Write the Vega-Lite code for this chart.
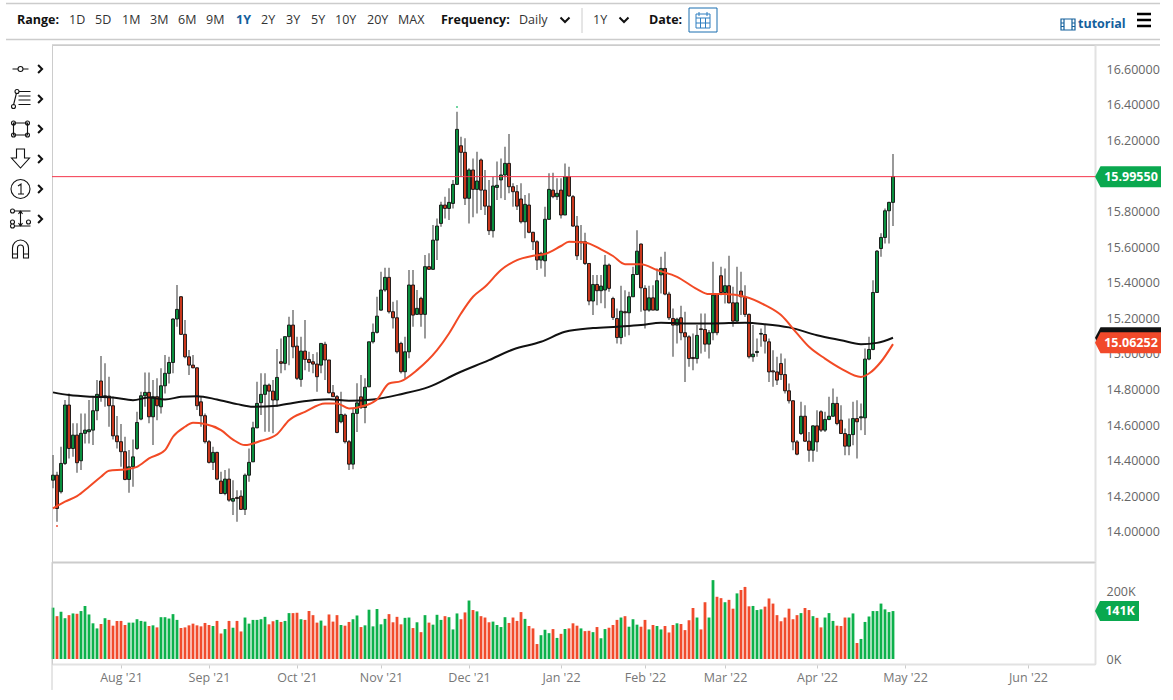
{
"$schema":"https://vega.github.io/schema/vega-lite/v6.json",
"background":"white",
"padding":0,
"spacing":0,
"bounds":"flush",
"config":{"font":"Open Sans","view":{"stroke":null}},
"resolve":{"scale":{"shape":"independent","color":"independent","strokeWidth":"independent"}},
"datasets":{
"controls":[
{"slot":1,"band":2,"label":"Range:","style":"heading"},
{"slot":3,"band":2,"label":"1D","style":"plain"},
{"slot":4,"band":2,"label":"5D","style":"plain"},
{"slot":5,"band":2,"label":"1M","style":"plain"},
{"slot":6,"band":2,"label":"3M","style":"plain"},
{"slot":7,"band":2,"label":"6M","style":"plain"},
{"slot":8,"band":2,"label":"9M","style":"plain"},
{"slot":9,"band":2,"label":"1Y","style":"active"},
{"slot":10,"band":2,"label":"2Y","style":"plain"},
{"slot":11,"band":2,"label":"3Y","style":"plain"},
{"slot":12,"band":2,"label":"5Y","style":"plain"},
{"slot":13,"band":2,"label":"10Y","style":"plain"},
{"slot":14,"band":2,"label":"20Y","style":"plain"},
{"slot":15,"band":2,"label":"MAX","style":"plain"},
{"slot":16,"band":2,"label":"Frequency:","style":"heading"},
{"slot":17,"band":2,"label":"Daily","style":"plain"},
{"slot":20,"band":2,"label":"1Y","style":"plain"},
{"slot":22,"band":2,"label":"Date:","style":"heading"},
{"slot":25,"band":3,"label":"tutorial","style":"active"}
],
"candles":[
{"day":0,"open":14.291,"high":14.432,"low":14.245,"close":14.319,"volume":151},
{"day":1,"open":14.319,"high":14.338,"low":14.057,"close":14.132,"volume":126},
{"day":2,"open":14.226,"high":14.479,"low":14.216,"close":14.385,"volume":139},
{"day":3,"open":14.385,"high":14.741,"low":14.376,"close":14.713,"volume":120},
{"day":4,"open":14.713,"high":14.778,"low":14.413,"close":14.469,"volume":129},
{"day":5,"open":14.469,"high":14.61,"low":14.422,"close":14.544,"volume":134},
{"day":6,"open":14.544,"high":14.61,"low":14.333,"close":14.389,"volume":133},
{"day":7,"open":14.4,"high":14.666,"low":14.348,"close":14.554,"volume":141},
{"day":8,"open":14.554,"high":14.666,"low":14.497,"close":14.572,"volume":156},
{"day":9,"open":14.563,"high":14.741,"low":14.497,"close":14.574,"volume":131},
{"day":10,"open":14.572,"high":14.76,"low":14.488,"close":14.681,"volume":105},
{"day":11,"open":14.681,"high":14.853,"low":14.628,"close":14.773,"volume":90},
{"day":12,"open":14.848,"high":14.988,"low":14.731,"close":14.76,"volume":103},
{"day":13,"open":14.76,"high":14.947,"low":14.703,"close":14.765,"volume":120},
{"day":14,"open":14.763,"high":14.872,"low":14.591,"close":14.709,"volume":115},
{"day":15,"open":14.709,"high":14.76,"low":14.52,"close":14.54,"volume":98},
{"day":16,"open":14.54,"high":14.651,"low":14.469,"close":14.507,"volume":112},
{"day":17,"open":14.507,"high":14.606,"low":14.366,"close":14.451,"volume":112},
{"day":18,"open":14.451,"high":14.535,"low":14.291,"close":14.295,"volume":100},
{"day":19,"open":14.295,"high":14.46,"low":14.22,"close":14.366,"volume":107},
{"day":20,"open":14.366,"high":14.52,"low":14.254,"close":14.422,"volume":107},
{"day":21,"open":14.469,"high":14.675,"low":14.46,"close":14.615,"volume":117},
{"day":22,"open":14.634,"high":14.788,"low":14.628,"close":14.765,"volume":112},
{"day":23,"open":14.765,"high":14.896,"low":14.703,"close":14.784,"volume":110},
{"day":24,"open":14.784,"high":14.896,"low":14.61,"close":14.647,"volume":97},
{"day":25,"open":14.647,"high":14.853,"low":14.488,"close":14.76,"volume":99},
{"day":26,"open":14.76,"high":14.863,"low":14.628,"close":14.709,"volume":93},
{"day":27,"open":14.703,"high":14.919,"low":14.666,"close":14.821,"volume":123},
{"day":28,"open":14.821,"high":14.994,"low":14.778,"close":14.891,"volume":123},
{"day":29,"open":14.891,"high":14.984,"low":14.834,"close":14.952,"volume":119},
{"day":30,"open":14.952,"high":15.2,"low":14.891,"close":15.196,"volume":132},
{"day":31,"open":15.196,"high":15.387,"low":15.153,"close":15.25,"volume":115},
{"day":32,"open":15.321,"high":15.325,"low":15.106,"close":15.11,"volume":91},
{"day":33,"open":15.11,"high":15.19,"low":14.975,"close":14.984,"volume":93},
{"day":34,"open":14.984,"high":15.022,"low":14.881,"close":14.937,"volume":99},
{"day":35,"open":14.937,"high":14.994,"low":14.919,"close":14.922,"volume":104},
{"day":36,"open":14.922,"high":14.924,"low":14.685,"close":14.709,"volume":99},
{"day":37,"open":14.731,"high":14.76,"low":14.591,"close":14.653,"volume":96},
{"day":38,"open":14.653,"high":14.666,"low":14.497,"close":14.507,"volume":106},
{"day":39,"open":14.507,"high":14.516,"low":14.385,"close":14.391,"volume":100},
{"day":40,"open":14.391,"high":14.479,"low":14.348,"close":14.447,"volume":97},
{"day":41,"open":14.447,"high":14.451,"low":14.291,"close":14.297,"volume":112},
{"day":42,"open":14.286,"high":14.338,"low":14.216,"close":14.216,"volume":75},
{"day":43,"open":14.216,"high":14.348,"low":14.207,"close":14.297,"volume":88},
{"day":44,"open":14.297,"high":14.357,"low":14.17,"close":14.179,"volume":112},
{"day":45,"open":14.173,"high":14.291,"low":14.095,"close":14.188,"volume":92},
{"day":46,"open":14.194,"high":14.235,"low":14.057,"close":14.188,"volume":112},
{"day":47,"open":14.201,"high":14.235,"low":14.123,"close":14.127,"volume":81},
{"day":48,"open":14.127,"high":14.329,"low":14.095,"close":14.319,"volume":122},
{"day":49,"open":14.319,"high":14.469,"low":14.282,"close":14.391,"volume":104},
{"day":50,"open":14.394,"high":14.619,"low":14.394,"close":14.585,"volume":115},
{"day":51,"open":14.585,"high":14.844,"low":14.582,"close":14.722,"volume":115},
{"day":52,"open":14.726,"high":14.891,"low":14.657,"close":14.773,"volume":117},
{"day":53,"open":14.773,"high":14.891,"low":14.563,"close":14.825,"volume":124},
{"day":54,"open":14.825,"high":14.834,"low":14.563,"close":14.791,"volume":102},
{"day":55,"open":14.791,"high":14.853,"low":14.554,"close":14.741,"volume":111},
{"day":56,"open":14.741,"high":15.027,"low":14.703,"close":14.868,"volume":115},
{"day":57,"open":14.956,"high":15.087,"low":14.891,"close":14.947,"volume":109},
{"day":58,"open":14.947,"high":15.097,"low":14.909,"close":15.097,"volume":112},
{"day":59,"open":15.097,"high":15.209,"low":14.937,"close":15.162,"volume":135},
{"day":60,"open":15.162,"high":15.246,"low":14.975,"close":15.04,"volume":135},
{"day":61,"open":15.044,"high":15.097,"low":14.853,"close":14.863,"volume":136},
{"day":62,"open":14.857,"high":15.097,"low":14.816,"close":15.016,"volume":117},
{"day":63,"open":15.016,"high":15.19,"low":14.909,"close":14.969,"volume":115},
{"day":64,"open":14.969,"high":15.012,"low":14.9,"close":14.952,"volume":141},
{"day":65,"open":14.956,"high":14.999,"low":14.891,"close":14.943,"volume":129},
{"day":66,"open":14.943,"high":15.009,"low":14.788,"close":14.872,"volume":107},
{"day":67,"open":14.937,"high":15.059,"low":14.891,"close":15.059,"volume":113},
{"day":68,"open":15.054,"high":15.069,"low":14.853,"close":14.966,"volume":98},
{"day":69,"open":14.966,"high":14.966,"low":14.778,"close":14.782,"volume":131},
{"day":70,"open":14.782,"high":14.825,"low":14.76,"close":14.76,"volume":110},
{"day":71,"open":14.76,"high":14.769,"low":14.554,"close":14.559,"volume":129},
{"day":72,"open":14.619,"high":14.788,"low":14.61,"close":14.66,"volume":100},
{"day":73,"open":14.657,"high":14.666,"low":14.497,"close":14.507,"volume":98},
{"day":74,"open":14.507,"high":14.516,"low":14.348,"close":14.381,"volume":109},
{"day":75,"open":14.381,"high":14.69,"low":14.353,"close":14.666,"volume":117},
{"day":76,"open":14.666,"high":14.836,"low":14.561,"close":14.725,"volume":128},
{"day":77,"open":14.759,"high":14.881,"low":14.69,"close":14.699,"volume":94},
{"day":78,"open":14.699,"high":14.864,"low":14.611,"close":14.813,"volume":99},
{"day":79,"open":14.815,"high":15.068,"low":14.815,"close":15.068,"volume":145},
{"day":80,"open":15.068,"high":15.171,"low":15.059,"close":15.121,"volume":96},
{"day":81,"open":15.121,"high":15.321,"low":15.115,"close":15.212,"volume":147},
{"day":82,"open":15.246,"high":15.462,"low":15.242,"close":15.359,"volume":102},
{"day":83,"open":15.359,"high":15.484,"low":15.349,"close":15.43,"volume":118},
{"day":84,"open":15.43,"high":15.484,"low":15.227,"close":15.237,"volume":132},
{"day":85,"open":15.237,"high":15.293,"low":15.143,"close":15.203,"volume":108},
{"day":86,"open":15.203,"high":15.302,"low":15.003,"close":15.012,"volume":124},
{"day":87,"open":15.059,"high":15.068,"low":14.89,"close":14.9,"volume":102},
{"day":88,"open":14.9,"high":15.096,"low":14.862,"close":15.012,"volume":121},
{"day":89,"open":15.012,"high":15.471,"low":14.975,"close":15.387,"volume":122},
{"day":90,"open":15.387,"high":15.471,"low":15.153,"close":15.218,"volume":91},
{"day":91,"open":15.222,"high":15.359,"low":15.218,"close":15.256,"volume":108},
{"day":92,"open":15.312,"high":15.321,"low":15.153,"close":15.222,"volume":79},
{"day":93,"open":15.222,"high":15.555,"low":15.087,"close":15.49,"volume":129},
{"day":94,"open":15.49,"high":15.565,"low":15.471,"close":15.475,"volume":107},
{"day":95,"open":15.475,"high":15.724,"low":15.471,"close":15.639,"volume":101},
{"day":96,"open":15.639,"high":15.761,"low":15.527,"close":15.718,"volume":130},
{"day":97,"open":15.733,"high":15.855,"low":15.714,"close":15.836,"volume":115},
{"day":98,"open":15.836,"high":15.883,"low":15.761,"close":15.817,"volume":126},
{"day":99,"open":15.817,"high":15.93,"low":15.752,"close":15.851,"volume":123},
{"day":100,"open":15.845,"high":15.977,"low":15.817,"close":15.952,"volume":87},
{"day":101,"open":15.952,"high":16.36,"low":15.948,"close":16.261,"volume":134},
{"day":102,"open":16.169,"high":16.22,"low":15.995,"close":16.132,"volume":117},
{"day":103,"open":16.132,"high":16.211,"low":15.836,"close":15.874,"volume":137},
{"day":104,"open":15.874,"high":16.042,"low":15.733,"close":16.033,"volume":172},
{"day":105,"open":16.033,"high":16.098,"low":15.767,"close":15.924,"volume":144},
{"day":106,"open":15.924,"high":16.136,"low":15.789,"close":15.971,"volume":140},
{"day":107,"open":16.089,"high":16.098,"low":15.808,"close":15.92,"volume":126},
{"day":108,"open":15.92,"high":16.033,"low":15.78,"close":15.83,"volume":122},
{"day":109,"open":15.83,"high":15.977,"low":15.668,"close":15.692,"volume":108},
{"day":110,"open":15.692,"high":15.995,"low":15.654,"close":15.943,"volume":110},
{"day":111,"open":15.935,"high":16.08,"low":15.864,"close":15.947,"volume":100},
{"day":112,"open":15.977,"high":16.098,"low":15.874,"close":16.005,"volume":94},
{"day":113,"open":16.005,"high":16.164,"low":15.864,"close":16.07,"volume":123},
{"day":114,"open":16.07,"high":16.235,"low":15.902,"close":15.939,"volume":106},
{"day":115,"open":15.939,"high":15.958,"low":15.827,"close":15.911,"volume":122},
{"day":116,"open":15.911,"high":15.948,"low":15.808,"close":15.83,"volume":112},
{"day":117,"open":15.87,"high":15.958,"low":15.733,"close":15.742,"volume":138},
{"day":118,"open":15.742,"high":15.892,"low":15.649,"close":15.84,"volume":118},
{"day":119,"open":15.836,"high":15.902,"low":15.677,"close":15.683,"volume":97},
{"day":120,"open":15.683,"high":15.686,"low":15.583,"close":15.63,"volume":90},
{"day":121,"open":15.63,"high":15.639,"low":15.471,"close":15.527,"volume":44},
{"day":122,"open":15.527,"high":15.574,"low":15.48,"close":15.565,"volume":70},
{"day":123,"open":15.523,"high":15.827,"low":15.433,"close":15.756,"volume":86},
{"day":124,"open":15.756,"high":16.014,"low":15.752,"close":15.924,"volume":76},
{"day":125,"open":15.92,"high":16.018,"low":15.874,"close":15.883,"volume":88},
{"day":126,"open":15.883,"high":15.986,"low":15.864,"close":15.902,"volume":62},
{"day":127,"open":15.92,"high":15.986,"low":15.761,"close":15.78,"volume":74},
{"day":128,"open":15.78,"high":16.07,"low":15.78,"close":15.995,"volume":88},
{"day":129,"open":15.995,"high":16.051,"low":15.883,"close":15.887,"volume":90},
{"day":130,"open":15.883,"high":15.892,"low":15.714,"close":15.718,"volume":105},
{"day":131,"open":15.718,"high":15.774,"low":15.527,"close":15.551,"volume":98},
{"day":132,"open":15.624,"high":15.724,"low":15.527,"close":15.63,"volume":90},
{"day":133,"open":15.63,"high":15.681,"low":15.499,"close":15.508,"volume":82},
{"day":134,"open":15.508,"high":15.508,"low":15.274,"close":15.297,"volume":83},
{"day":135,"open":15.297,"high":15.443,"low":15.218,"close":15.39,"volume":79},
{"day":136,"open":15.39,"high":15.443,"low":15.274,"close":15.355,"volume":94},
{"day":137,"open":15.355,"high":15.443,"low":15.284,"close":15.381,"volume":61},
{"day":138,"open":15.359,"high":15.555,"low":15.256,"close":15.499,"volume":88},
{"day":139,"open":15.499,"high":15.508,"low":15.349,"close":15.368,"volume":92},
{"day":140,"open":15.311,"high":15.321,"low":15.19,"close":15.205,"volume":100},
{"day":141,"open":15.199,"high":15.255,"low":15.059,"close":15.092,"volume":115},
{"day":142,"open":15.092,"high":15.383,"low":15.055,"close":15.24,"volume":122},
{"day":143,"open":15.237,"high":15.358,"low":15.096,"close":15.231,"volume":126},
{"day":144,"open":15.231,"high":15.349,"low":15.105,"close":15.321,"volume":95},
{"day":145,"open":15.321,"high":15.489,"low":15.321,"close":15.446,"volume":117},
{"day":146,"open":15.446,"high":15.695,"low":15.443,"close":15.577,"volume":101},
{"day":147,"open":15.617,"high":15.62,"low":15.237,"close":15.371,"volume":95},
{"day":148,"open":15.368,"high":15.386,"low":15.143,"close":15.246,"volume":115},
{"day":149,"open":15.246,"high":15.383,"low":15.237,"close":15.315,"volume":87},
{"day":150,"open":15.315,"high":15.386,"low":15.246,"close":15.246,"volume":100},
{"day":151,"open":15.246,"high":15.48,"low":15.242,"close":15.411,"volume":97},
{"day":152,"open":15.444,"high":15.546,"low":15.34,"close":15.48,"volume":87},
{"day":153,"open":15.48,"high":15.574,"low":15.33,"close":15.336,"volume":97},
{"day":154,"open":15.336,"high":15.349,"low":15.19,"close":15.203,"volume":78},
{"day":155,"open":15.199,"high":15.255,"low":14.984,"close":15.162,"volume":100},
{"day":156,"open":15.162,"high":15.203,"low":15.059,"close":15.195,"volume":105},
{"day":157,"open":15.203,"high":15.27,"low":15.077,"close":15.119,"volume":103},
{"day":158,"open":15.119,"high":15.237,"low":14.843,"close":15.096,"volume":85},
{"day":159,"open":15.096,"high":15.105,"low":14.928,"close":14.974,"volume":114},
{"day":160,"open":14.98,"high":15.115,"low":14.909,"close":14.974,"volume":150},
{"day":161,"open":14.974,"high":15.162,"low":14.946,"close":15.104,"volume":122},
{"day":162,"open":15.141,"high":15.227,"low":15.002,"close":15.137,"volume":87},
{"day":163,"open":15.137,"high":15.227,"low":15.012,"close":15.055,"volume":167},
{"day":164,"open":15.055,"high":15.134,"low":14.974,"close":15.119,"volume":122},
{"day":165,"open":15.119,"high":15.517,"low":15.077,"close":15.33,"volume":232},
{"day":166,"open":15.336,"high":15.34,"low":15.105,"close":15.119,"volume":183},
{"day":167,"open":15.439,"high":15.489,"low":15.33,"close":15.345,"volume":179},
{"day":168,"open":15.345,"high":15.48,"low":15.283,"close":15.383,"volume":167},
{"day":169,"open":15.383,"high":15.551,"low":15.283,"close":15.287,"volume":174},
{"day":170,"open":15.287,"high":15.377,"low":15.152,"close":15.184,"volume":148},
{"day":171,"open":15.184,"high":15.489,"low":15.18,"close":15.287,"volume":193},
{"day":172,"open":15.353,"high":15.461,"low":15.218,"close":15.321,"volume":203},
{"day":173,"open":15.317,"high":15.386,"low":15.208,"close":15.222,"volume":212},
{"day":174,"open":15.222,"high":15.227,"low":14.974,"close":14.984,"volume":155},
{"day":175,"open":14.984,"high":15.162,"low":14.956,"close":14.999,"volume":156},
{"day":176,"open":15.008,"high":15.087,"low":14.984,"close":15.014,"volume":144},
{"day":177,"open":15.111,"high":15.143,"low":15.04,"close":15.115,"volume":146},
{"day":178,"open":15.109,"high":15.162,"low":15.002,"close":15.072,"volume":154},
{"day":179,"open":15.068,"high":15.087,"low":14.843,"close":14.899,"volume":178},
{"day":180,"open":14.905,"high":15.021,"low":14.815,"close":14.899,"volume":163},
{"day":181,"open":14.899,"high":14.984,"low":14.825,"close":14.853,"volume":129},
{"day":182,"open":14.946,"high":15.002,"low":14.853,"close":14.884,"volume":111},
{"day":183,"open":14.884,"high":14.974,"low":14.778,"close":14.793,"volume":122},
{"day":184,"open":14.793,"high":14.834,"low":14.722,"close":14.737,"volume":148},
{"day":185,"open":14.737,"high":14.74,"low":14.459,"close":14.506,"volume":117},
{"day":186,"open":14.506,"high":14.516,"low":14.431,"close":14.437,"volume":129},
{"day":187,"open":14.553,"high":14.731,"low":14.544,"close":14.65,"volume":135},
{"day":188,"open":14.65,"high":14.712,"low":14.506,"close":14.51,"volume":150},
{"day":189,"open":14.51,"high":14.562,"low":14.394,"close":14.459,"volume":144},
{"day":190,"open":14.459,"high":14.6,"low":14.394,"close":14.596,"volume":126},
{"day":191,"open":14.596,"high":14.684,"low":14.45,"close":14.506,"volume":121},
{"day":192,"open":14.675,"high":14.684,"low":14.562,"close":14.572,"volume":93},
{"day":193,"open":14.572,"high":14.675,"low":14.562,"close":14.632,"volume":122},
{"day":194,"open":14.632,"high":14.759,"low":14.628,"close":14.65,"volume":135},
{"day":195,"open":14.65,"high":14.806,"low":14.647,"close":14.722,"volume":112},
{"day":196,"open":14.722,"high":14.759,"low":14.6,"close":14.609,"volume":98},
{"day":197,"open":14.628,"high":14.712,"low":14.553,"close":14.553,"volume":97},
{"day":198,"open":14.553,"high":14.581,"low":14.431,"close":14.482,"volume":122},
{"day":199,"open":14.482,"high":14.637,"low":14.431,"close":14.547,"volume":122},
{"day":200,"open":14.547,"high":14.731,"low":14.487,"close":14.637,"volume":134},
{"day":201,"open":14.637,"high":14.74,"low":14.413,"close":14.619,"volume":47},
{"day":202,"open":14.641,"high":14.722,"low":14.572,"close":14.647,"volume":59},
{"day":203,"open":14.641,"high":15.031,"low":14.544,"close":14.971,"volume":109},
{"day":204,"open":14.971,"high":15.096,"low":14.965,"close":15.025,"volume":125},
{"day":205,"open":15.025,"high":15.414,"low":15.021,"close":15.345,"volume":141},
{"day":206,"open":15.345,"high":15.583,"low":15.345,"close":15.577,"volume":141},
{"day":207,"open":15.592,"high":15.677,"low":15.546,"close":15.654,"volume":163},
{"day":208,"open":15.654,"high":15.817,"low":15.62,"close":15.804,"volume":146},
{"day":209,"open":15.804,"high":15.855,"low":15.62,"close":15.851,"volume":138},
{"day":210,"open":15.851,"high":16.122,"low":15.718,"close":15.9955,"volume":141}
],
"shortAverage":[
{"day":0,"price":14.132},{"day":3,"price":14.17},{"day":6,"price":14.201},{"day":9,"price":14.254},{"day":12,"price":14.31},{"day":14,"price":14.344},{"day":18,"price":14.351},{"day":21,"price":14.366},{"day":24,"price":14.413},{"day":28,"price":14.46},{"day":30,"price":14.535},{"day":33,"price":14.591},{"day":35,"price":14.613},{"day":38,"price":14.606},{"day":42,"price":14.572},{"day":45,"price":14.519},{"day":48,"price":14.488},{"day":52,"price":14.512},{"day":56,"price":14.549},{"day":59,"price":14.628},{"day":63,"price":14.675},{"day":68,"price":14.722},{"day":71,"price":14.722},{"day":74,"price":14.694},{"day":78,"price":14.71},{"day":81,"price":14.744},{"day":84,"price":14.834},{"day":87,"price":14.847},{"day":91,"price":14.909},{"day":96,"price":15.021},{"day":99,"price":15.115},{"day":102,"price":15.227},{"day":105,"price":15.321},{"day":108,"price":15.377},{"day":112,"price":15.471},{"day":116,"price":15.527},{"day":120,"price":15.551},{"day":123,"price":15.561},{"day":127,"price":15.606},{"day":129,"price":15.63},{"day":133,"price":15.626},{"day":137,"price":15.587},{"day":140,"price":15.55},{"day":143,"price":15.504},{"day":147,"price":15.504},{"day":151,"price":15.471},{"day":156,"price":15.433},{"day":161,"price":15.364},{"day":164,"price":15.336},{"day":168,"price":15.336},{"day":173,"price":15.321},{"day":178,"price":15.274},{"day":182,"price":15.218},{"day":186,"price":15.115},{"day":189,"price":15.04},{"day":193,"price":14.974},{"day":197,"price":14.918},{"day":202,"price":14.871},{"day":204,"price":14.89},{"day":207,"price":14.956},{"day":210,"price":15.055}
],
"longAverage":[
{"day":0,"price":14.784},{"day":4,"price":14.769},{"day":10,"price":14.759},{"day":15,"price":14.755},{"day":20,"price":14.74},{"day":24,"price":14.755},{"day":28,"price":14.744},{"day":32,"price":14.759},{"day":36,"price":14.763},{"day":41,"price":14.744},{"day":46,"price":14.718},{"day":50,"price":14.703},{"day":56,"price":14.709},{"day":60,"price":14.725},{"day":65,"price":14.74},{"day":69,"price":14.746},{"day":74,"price":14.737},{"day":80,"price":14.744},{"day":87,"price":14.774},{"day":94,"price":14.815},{"day":101,"price":14.89},{"day":109,"price":14.965},{"day":115,"price":15.025},{"day":122,"price":15.068},{"day":128,"price":15.124},{"day":135,"price":15.145},{"day":141,"price":15.153},{"day":147,"price":15.162},{"day":152,"price":15.175},{"day":158,"price":15.171},{"day":165,"price":15.171},{"day":173,"price":15.175},{"day":178,"price":15.167},{"day":184,"price":15.149},{"day":191,"price":15.105},{"day":197,"price":15.077},{"day":202,"price":15.055},{"day":206,"price":15.062},{"day":210,"price":15.091}
],
"tags":[
{"name":"Close","price":15.9955,"label":"15.99550"},
{"name":"Long","price":15.091,"label":"15.09100"},
{"name":"Short","price":15.06252,"label":"15.06252"}
]
},
"vconcat":[
{
"width":1173,
"height":45,
"layer":[
{
"data":{"values":[{"band":0,"from":0,"to":27},{"band":5,"from":0,"to":27},{"band":6,"from":2,"to":27}]},
"mark":{"type":"rule","color":"#cccccc","strokeWidth":1.5},
"encoding":{
"x":{"field":"from","type":"quantitative","axis":null,"scale":{"domain":[0,1,2,3,4,5,6,7,8,9,10,11,12,13,14,15,16,17,18,19,20,21,22,23,24,25,26,27],"range":[6,17,52,69,95,122,150,178,206,236,261,286,311,335,367,398,441,519,565,582,593,624,649,703,1068,1078,1144,1160],"nice":false,"zero":false}},
"x2":{"field":"to"},
"y":{"field":"band","type":"quantitative","axis":null,"scale":{"domain":[0,1,2,3,4,5,6],"range":[3.5,8,20,24,33,39.5,45],"nice":false,"zero":false}}
}
},
{
"data":{"values":[{"slot":19,"top":1,"bottom":4}]},
"mark":{"type":"rule","color":"#cccccc","strokeWidth":1},
"encoding":{
"x":{"field":"slot","type":"quantitative"},
"y":{"field":"top","type":"quantitative"},
"y2":{"field":"bottom"}
}
},
{
"data":{"name":"controls"},
"transform":[{"filter":"datum.style=='plain'"}],
"mark":{"type":"text","align":"left","baseline":"middle","fontSize":12.5,"color":"#333333"},
"encoding":{
"x":{"field":"slot","type":"quantitative"},
"y":{"field":"band","type":"quantitative"},
"text":{"field":"label"}
}
},
{
"data":{"name":"controls"},
"transform":[{"filter":"datum.style=='heading'"}],
"mark":{"type":"text","align":"left","baseline":"middle","fontSize":12.5,"fontWeight":"bold","color":"#111111"},
"encoding":{
"x":{"field":"slot","type":"quantitative"},
"y":{"field":"band","type":"quantitative"},
"text":{"field":"label"}
}
},
{
"data":{"name":"controls"},
"transform":[{"filter":"datum.style=='active'"}],
"mark":{"type":"text","align":"left","baseline":"middle","fontSize":12.5,"fontWeight":"bold","color":"#14609c"},
"encoding":{
"x":{"field":"slot","type":"quantitative"},
"y":{"field":"band","type":"quantitative"},
"text":{"field":"label"}
}
},
{
"data":{"values":[{"slot":18,"band":2,"icon":"chevron"},{"slot":21,"band":2,"icon":"chevron"},{"slot":23,"band":2,"icon":"button"},{"slot":23,"band":2,"icon":"calendar"},{"slot":24,"band":3,"icon":"film"},{"slot":26,"band":2,"icon":"menu"}]},
"mark":{"type":"point","filled":false,"size":4,"opacity":1},
"encoding":{
"x":{"field":"slot","type":"quantitative"},
"y":{"field":"band","type":"quantitative"},
"shape":{"field":"icon","type":"nominal","legend":null,"scale":{"domain":["chevron","button","calendar","film","menu"],"range":["M-4.5 -2.5L0 2L4.5 -2.5","M-14 -12H14V12H-14Z","M-7 -6H7V8H-7Z M-7 -2H7 M-2.5 -2V8 M2.5 -2V8 M-7 3H7 M-4 -8V-4 M4 -8V-4","M-7 -5H7V6H-7Z M-4 -5V6 M4 -5V6 M-7 -1H-4 M-7 2.5H-4 M4 -1H7 M4 2.5H7","M-7 -6H7 M-7 0H7 M-7 6H7"]}},
"color":{"field":"icon","type":"nominal","legend":null,"scale":{"domain":["chevron","button","calendar","film","menu"],"range":["#111111","#1a6fb0","#2f7fc0","#14609c","#000000"]}},
"strokeWidth":{"field":"icon","type":"nominal","legend":null,"scale":{"type":"ordinal","domain":["chevron","button","calendar","film","menu"],"range":[2,1,1,1.2,2.5]}}
}
}
]
},
{
"spacing":0,
"bounds":"flush",
"resolve":{"scale":{"shape":"independent","color":"independent","strokeWidth":"independent"}},
"hconcat":[
{
"width":52,
"height":517,
"data":{"values":[{"tool":"crosshair"},{"tool":"levels"},{"tool":"shape"},{"tool":"arrow"},{"tool":"number"},{"tool":"measure"},{"tool":"magnet"}]},
"layer":[
{
"mark":{"type":"point","filled":false,"size":4,"opacity":1,"color":"#111111","strokeWidth":1.1},
"encoding":{
"x":{"datum":"icon","type":"nominal","axis":null,"scale":{"type":"point","domain":["icon","chevron"],"range":[20.5,40.6],"padding":0}},
"y":{"field":"tool","type":"nominal","axis":null,"scale":{"type":"point","domain":["crosshair","levels","shape","arrow","number","measure","magnet"],"range":[24,204],"padding":0}},
"shape":{"field":"tool","type":"nominal","legend":null,"scale":{"domain":["crosshair","levels","shape","arrow","number","measure","magnet"],"range":[
"M-8 0H-3 M3 0H8 M-2.5 0A2.5 2.5 0 1 0 2.5 0A2.5 2.5 0 1 0 -2.5 0",
"M-7 6L-4 -6 M-2 -7.5H10 M-2 -3H10 M-2 1H10 M-2 5.5H10 M-9 7.5A2 2 0 1 0 -5 7.5A2 2 0 1 0 -9 7.5 M-5.5 -7.5A2 2 0 1 0 -1.5 -7.5A2 2 0 1 0 -5.5 -7.5",
"M-7 -6H7V6H-7Z M-9 -6A2 2 0 1 0 -5 -6A2 2 0 1 0 -9 -6 M5 -6A2 2 0 1 0 9 -6A2 2 0 1 0 5 -6 M-9 6A2 2 0 1 0 -5 6A2 2 0 1 0 -9 6 M5 6A2 2 0 1 0 9 6A2 2 0 1 0 5 6",
"M-4 -10H4V-1H9L0 9L-9 -1H-4Z",
"M-9.5 0A9.5 9.5 0 1 0 9.5 0A9.5 9.5 0 1 0 -9.5 0 M-2.5 -3L0.5 -5V5 M-2.5 5H3.5",
"M-6 -8H10 M-6 7H10 M0 -8V7 M-2 -5L0 -8L2 -5 M-2 4L0 7L2 4 M-10 -8A2 2 0 1 0 -6 -8A2 2 0 1 0 -10 -8 M-10 3A2 2 0 1 0 -6 3A2 2 0 1 0 -10 3 M-10 7A2 2 0 1 0 -6 7A2 2 0 1 0 -10 7 M6 3A2 2 0 1 0 10 3A2 2 0 1 0 6 3",
"M-8 9V-1A8 8 0 0 1 8 -1V9H3V-1A3 3 0 0 0 -3 -1V9Z M-8 5H-3 M3 5H8"
]}}
}
},
{
"transform":[{"filter":"datum.tool!='magnet'"}],
"mark":{"type":"point","filled":false,"size":4,"opacity":1,"color":"#111111","strokeWidth":2,"shape":"M-2.5 -4L1.5 0L-2.5 4"},
"encoding":{
"x":{"datum":"chevron","type":"nominal"},
"y":{"field":"tool","type":"nominal"}
}
}
]
},
{
"spacing":0,
"bounds":"flush",
"resolve":{"scale":{"shape":"independent","color":"independent","strokeWidth":"independent"}},
"vconcat":[
{
"width":1043,
"height":517,
"view":{"stroke":"#cccccc"},
"layer":[
{
"data":{"name":"candles"},
"mark":{"type":"rule","color":"#808080","strokeWidth":1.6},
"encoding":{
"x":{"field":"day","type":"quantitative","scale":{"domain":[-0.25,260.5],"padding":0,"nice":false,"zero":false},"axis":{"title":null,"labels":false,"ticks":false,"grid":false,"domainColor":"#cccccc","domainWidth":2}},
"y":{"field":"low","type":"quantitative","scale":{"domain":[13.8315,16.7348],"nice":false,"zero":false},"axis":{"title":null,"orient":"right","values":[14,14.2,14.4,14.6,14.8,15,15.2,15.4,15.6,15.8,16,16.2,16.4,16.6],"tickCount":20,"format":".5f","grid":false,"ticks":false,"domainColor":"#e2e2e2","domainWidth":2,"labelColor":"#666666","labelFontSize":12.5,"labelPadding":11,"labelOverlap":false}},
"y2":{"field":"high"}
}
},
{
"data":{"name":"candles"},
"mark":{"type":"bar","size":3,"stroke":"#111111","strokeWidth":0.9},
"encoding":{
"x":{"field":"day","type":"quantitative"},
"y":{"field":"open","type":"quantitative"},
"y2":{"field":"close"},
"fill":{"condition":{"test":"datum.close>datum.open","value":"#0a8f3e"},"value":"#c9371c"}
}
},
{
"data":{"name":"longAverage"},
"mark":{"type":"line","color":"#111111","strokeWidth":2,"interpolate":"monotone"},
"encoding":{
"x":{"field":"day","type":"quantitative"},
"y":{"field":"price","type":"quantitative"}
}
},
{
"data":{"name":"shortAverage"},
"mark":{"type":"line","color":"#f24a25","strokeWidth":2,"interpolate":"monotone"},
"encoding":{
"x":{"field":"day","type":"quantitative"},
"y":{"field":"price","type":"quantitative"}
}
},
{
"data":{"values":[{"day":101,"price":16.386,"kind":"high"},{"day":1,"price":14.033,"kind":"low"}]},
"mark":{"type":"square","size":4},
"encoding":{
"x":{"field":"day","type":"quantitative"},
"y":{"field":"price","type":"quantitative"},
"fill":{"field":"kind","type":"nominal","legend":null,"scale":{"domain":["high","low"],"range":["#35c47a","#f2462c"]}}
}
},
{
"data":{"name":"tags"},
"transform":[{"filter":"datum.name=='Close'"}],
"mark":{"type":"rule","color":"#f4364c","strokeWidth":1},
"encoding":{
"y":{"field":"price","type":"quantitative"}
}
},
{
"data":{"name":"tags"},
"transform":[{"filter":"datum.name!='Short'"}],
"mark":{"type":"point","filled":true,"size":4,"opacity":1,"shape":"M0 0L5.5 -10.5H66V10.5H5.5Z"},
"encoding":{
"x":{"datum":260.5,"type":"quantitative"},
"y":{"field":"price","type":"quantitative"},
"color":{"field":"name","type":"nominal","legend":null,"scale":{"domain":["Close","Long","Short"],"range":["#0aa84f","#111111","#f1492a"]}}
}
},
{
"data":{"name":"tags"},
"transform":[{"filter":"datum.name!='Short'"}],
"mark":{"type":"text","align":"center","baseline":"middle","dx":36,"fontSize":12.5,"fontWeight":"bold","color":"white"},
"encoding":{
"x":{"datum":260.5,"type":"quantitative"},
"y":{"field":"price","type":"quantitative"},
"text":{"field":"label"}
}
},
{
"data":{"name":"tags"},
"transform":[{"filter":"datum.name=='Short'"}],
"mark":{"type":"point","filled":true,"size":4,"opacity":1,"shape":"M0 0L5.5 -10.5H66V10.5H5.5Z"},
"encoding":{
"x":{"datum":260.5,"type":"quantitative"},
"y":{"field":"price","type":"quantitative"},
"color":{"field":"name","type":"nominal","legend":null}
}
},
{
"data":{"name":"tags"},
"transform":[{"filter":"datum.name=='Short'"}],
"mark":{"type":"text","align":"center","baseline":"middle","dx":36,"fontSize":12.5,"fontWeight":"bold","color":"white"},
"encoding":{
"x":{"datum":260.5,"type":"quantitative"},
"y":{"field":"price","type":"quantitative"},
"text":{"field":"label"}
}
}
]
},
{
"width":1043,
"height":102,
"view":{"stroke":"#cccccc"},
"layer":[
{
"data":{"name":"candles"},
"mark":{"type":"bar","size":2.8},
"encoding":{
"x":{"field":"day","type":"quantitative","scale":{"domain":[-0.25,260.5],"padding":0,"nice":false,"zero":false},"axis":{"title":null,"values":[17,39,61,82,104,127,148,168,191,213,243.75],"tickCount":20,"labelExpr":"[\"Aug '21\",\"Sep '21\",\"Oct '21\",\"Nov '21\",\"Dec '21\",\"Jan '22\",\"Feb '22\",\"Mar '22\",\"Apr '22\",\"May '22\",\"Jun '22\"][indexof([17,39,61,82,104,127,148,168,191,213,243.75],datum.value)]","grid":false,"domainColor":"#e2e2e2","domainWidth":2,"tickColor":"#cccccc","tickSize":4,"labelColor":"#777777","labelFontSize":12.5,"labelPadding":3,"labelFlush":false,"labelOverlap":false}},
"y":{"field":"volume","type":"quantitative","scale":{"domain":[-14.7,285.3],"nice":false,"zero":false},"axis":{"title":null,"orient":"right","values":[0,200],"labelExpr":"datum.value+'K'","grid":false,"ticks":false,"domainColor":"#e2e2e2","domainWidth":2,"labelColor":"#666666","labelFontSize":12.5,"labelPadding":11}},
"y2":{"datum":0},
"color":{"condition":{"test":"datum.close>datum.open","value":"#0db14b"},"value":"#f14b2c"}
}
},
{
"data":{"values":[{"label":"141K","volume":141}]},
"mark":{"type":"point","filled":true,"size":4,"opacity":1,"color":"#0aa84f","shape":"M0 0L5 -10H44V10H5Z"},
"encoding":{
"x":{"datum":260.5,"type":"quantitative"},
"y":{"field":"volume","type":"quantitative"}
}
},
{
"data":{"values":[{"label":"141K","volume":141}]},
"mark":{"type":"text","align":"center","baseline":"middle","dx":25,"fontSize":12.5,"fontWeight":"bold","color":"white"},
"encoding":{
"x":{"datum":260.5,"type":"quantitative"},
"y":{"field":"volume","type":"quantitative"},
"text":{"field":"label"}
}
},
{
"data":{"values":[{"edge":"left"}]},
"mark":{"type":"rule","color":"#cccccc","strokeWidth":1},
"encoding":{
"x":{"datum":-0.25,"type":"quantitative"},
"y":{"datum":-91,"type":"quantitative"},
"y2":{"datum":285}
}
}
]
}
]
}
]
}
]
}
